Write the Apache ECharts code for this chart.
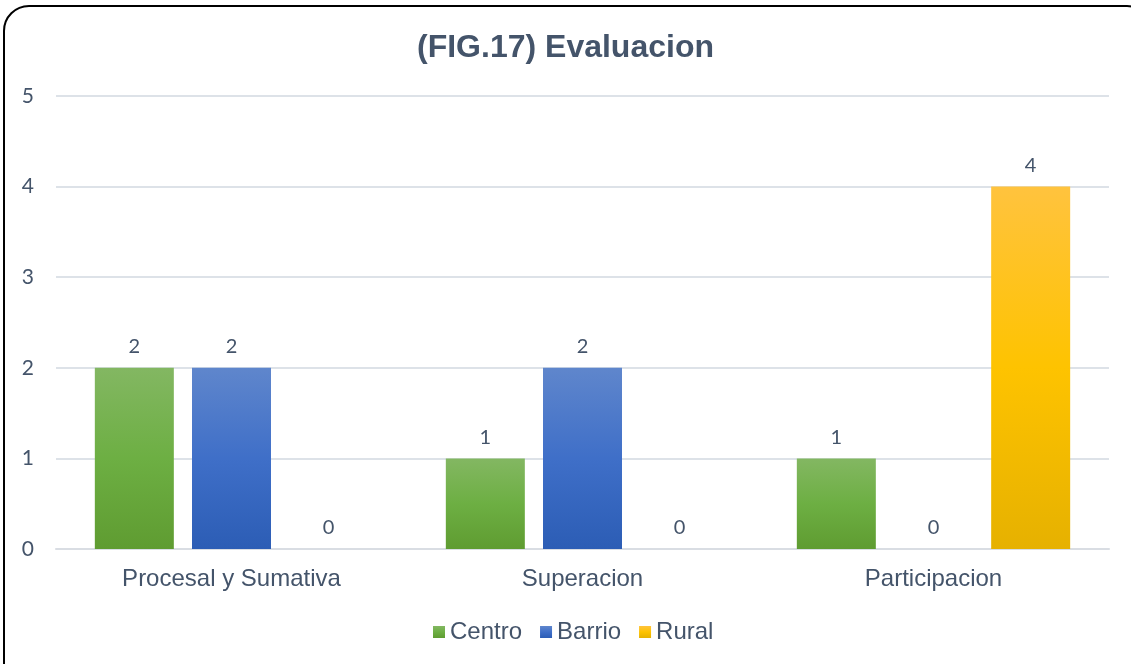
<!DOCTYPE html>
<html>
<head>
<meta charset="utf-8">
<script src="https://cdn.jsdelivr.net/npm/echarts@6/dist/echarts.min.js"></script>
<style>
  html, body { margin: 0; padding: 0; background: #fff; overflow: hidden; }
  #frame { position: absolute; left: 3px; top: 5px; width: 1150px; height: 690px;
           border: 2px solid #000; border-radius: 26px; box-sizing: border-box; }
  #echarts { position: absolute; left: 0; top: 0; width: 1131px; height: 664px; }
</style>
</head>
<body>
<div id="frame"></div>
<div id="echarts"></div>
<script>
// datos
var categorias = ['Procesal y Sumativa', 'Superacion', 'Participacion'];
var centro = [2, 1, 1];
var barrio = [2, 2, 0];
var rural = [0, 0, 4];
var ticks = [0, 1, 2, 3, 4, 5];

var textColor = '#44546A';

function grad(top, mid, bottom) {
  return new echarts.graphic.LinearGradient(0, 0, 0, 1, [
    {offset: 0, color: top},
    {offset: 0.5, color: mid},
    {offset: 1, color: bottom}
  ]);
}

var myChart = echarts.init(document.getElementById('echarts'));

var labelCfg = {
  show: true,
  position: 'top',
  distance: 11,
  color: textColor,
  fontFamily: 'Lato',
  fontSize: 20
};

var option = {
  animation: false,
  title: {
    text: '(FIG.17) Evaluacion',
    left: 'center',
    top: 27,
    textStyle: {
      color: textColor,
      fontFamily: 'Liberation Sans',
      fontWeight: 'bold',
      fontSize: 32
    }
  },
  legend: {
    bottom: 20,
    left: 433,
    padding: 0,
    itemWidth: 12,
    itemHeight: 12,
    itemGap: 18,
    icon: 'rect',
    textStyle: {
      color: textColor,
      fontFamily: 'Liberation Sans',
      fontSize: 24
    },
    data: ['Centro', 'Barrio', 'Rural']
  },
  grid: {left: 56, right: 22, top: 96, bottom: 115, containLabel: false},
  xAxis: {
    type: 'category',
    data: categorias,
    axisLine: {lineStyle: {color: '#D9DDE3', width: 2}},
    axisTick: {show: false},
    axisLabel: {
      color: textColor,
      fontFamily: 'Liberation Sans',
      fontSize: 24,
      margin: 18
    }
  },
  yAxis: {
    type: 'value',
    min: 0,
    max: 5,
    interval: 1,
    axisLine: {show: false},
    axisTick: {show: false},
    splitLine: {lineStyle: {color: '#DDE2E8', width: 2}},
    axisLabel: {
      color: textColor,
      fontFamily: 'Lato',
      fontSize: 21,
      margin: 22,
      formatter: function (v) { return ticks.indexOf(v) >= 0 ? String(v) : ''; }
    }
  },
  series: [
    {
      name: 'Centro',
      type: 'bar',
      data: centro,
      barWidth: 79,
      barGap: '23%',
      itemStyle: {color: grad('#83B762', '#6DAF43', '#5F9C31')},
      label: labelCfg
    },
    {
      name: 'Barrio',
      type: 'bar',
      data: barrio,
      barWidth: 79,
      barGap: '23%',
      itemStyle: {color: grad('#5F86CC', '#3F6FC8', '#2C5DB5')},
      label: labelCfg
    },
    {
      name: 'Rural',
      type: 'bar',
      data: rural,
      barWidth: 79,
      barGap: '23%',
      itemStyle: {color: grad('#FFC33E', '#FEC300', '#E6B100')},
      label: labelCfg
    }
  ]
};

myChart.setOption(option);
</script>
</body>
</html>
